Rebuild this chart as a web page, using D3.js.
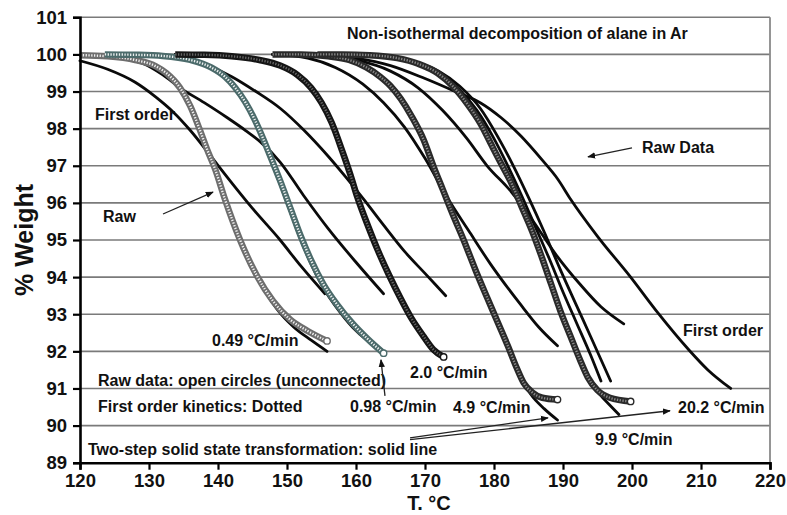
<!DOCTYPE html>
<html>
<head>
<meta charset="utf-8">
<script src="https://cdn.jsdelivr.net/npm/d3@7"></script>
<style>
  body { margin: 0; background: #fff; }
  svg { display: block; font-family: "Liberation Sans", Arial, Helvetica, sans-serif; font-weight: bold; }
</style>
</head>
<body>
<svg id="chart" width="787" height="515"></svg>
<script>
// Axis ticks
const xTicks = [120, 130, 140, 150, 160, 170, 180, 190, 200, 210, 220];
const yTicks = [89, 90, 91, 92, 93, 94, 95, 96, 97, 98, 99, 100, 101];

// Heating rates (°C/min)
const rates = ["0.49", "0.98", "2.0", "4.9", "9.9", "20.2"];

// Raw TGA data: [T °C, % weight]
const raw049 = [[120,99.98],[124,99.95],[128,99.85],[131,99.68],[132.5,99.5],[134.5,99.1],[136,98.6],[137.3,98.0],[138.4,97.45],[139.6,96.9],[141,96.1],[143.2,95.0],[145.6,94.05],[148,93.35],[150.5,92.85],[153,92.55],[155.8,92.28]];
const raw098 = [[123.6,100.0],[128,99.99],[132,99.96],[136,99.85],[139,99.65],[141,99.4],[142.5,99.1],[144,98.7],[145.3,98.25],[146.5,97.75],[147.7,97.2],[149,96.6],[150.5,95.85],[152,95.1],[153.5,94.45],[155.3,93.8],[157.3,93.25],[159.5,92.75],[161.6,92.35],[164,91.95]];
const raw20 = [[133.8,100.0],[138,99.99],[142,99.95],[146,99.85],[149,99.7],[151.5,99.45],[153.5,99.1],[155,98.7],[156.5,98.15],[158,97.4],[159.2,96.75],[160.2,96.15],[161.8,95.35],[163.1,94.75],[164.8,94.05],[166.4,93.45],[168,92.9],[169.8,92.4],[171.2,92.05],[172.7,91.85]];
const raw49 = [[147.9,100.0],[152,100.0],[156,99.95],[159,99.85],[161.5,99.65],[163.5,99.4],[165,99.15],[166.5,98.8],[168,98.35],[169.8,97.7],[171.3,96.95],[172.6,96.35],[174,95.7],[175.6,95.0],[177.3,94.2],[179,93.45],[180.5,92.8],[182,92.15],[183.3,91.55],[184.3,91.15],[185.5,90.9],[187,90.75],[189.2,90.7]];
const raw99 = [[154.4,100.0],[158,100.0],[162,99.98],[166,99.9],[169,99.75],[171.8,99.5],[174,99.15],[176.2,98.65],[178,98.15],[179.8,97.5],[181.2,97.0],[182.6,96.5],[184,95.9],[185.5,95.25],[187,94.5],[188.3,93.8],[189.6,93.1],[191.1,92.4],[192.4,91.8],[193.6,91.3],[195,90.95],[196.8,90.75],[199.8,90.65]];

// Two-step solid state transformation model
const twoStep049 = [[120,99.98],[124,99.95],[128,99.85],[131,99.66],[133,99.4],[134.5,99.05],[136,98.55],[137.3,97.95],[138.5,97.35],[139.8,96.75],[141.3,95.95],[143.5,94.9],[146,93.9],[148.5,93.15],[151,92.65],[153.5,92.3],[155.8,92.0]];
const twoStep098 = [[123.6,100.0],[128,99.99],[132,99.96],[136,99.85],[139,99.64],[141,99.38],[142.5,99.05],[144,98.65],[145.3,98.2],[146.5,97.7],[147.7,97.12],[149,96.5],[150.5,95.75],[152,95.0],[153.5,94.35],[155.3,93.7],[157.3,93.15],[159.5,92.65],[161.6,92.3],[163.7,92.05]];
const twoStep20 = [[133.8,100.0],[138,99.99],[142,99.95],[146,99.85],[149,99.7],[151.5,99.45],[153.5,99.1],[155,98.7],[156.5,98.15],[158,97.4],[159.2,96.75],[160.2,96.15],[161.8,95.35],[163.1,94.75],[164.8,94.05],[166.4,93.45],[168,92.9],[169.8,92.35],[171.2,92.0],[172.7,91.8]];
const twoStep49 = [[147.9,100.0],[152,100.0],[156,99.95],[159,99.85],[161.5,99.65],[163.5,99.4],[165,99.15],[166.5,98.8],[168,98.35],[169.8,97.7],[171.3,96.95],[172.6,96.35],[174,95.7],[175.6,95.0],[177.3,94.2],[179,93.45],[180.5,92.8],[182,92.15],[183.5,91.45],[185.3,90.85],[187.3,90.45],[189.2,90.15]];
const twoStep99 = [[154.4,100.0],[158,100.0],[162,99.98],[166,99.9],[169,99.75],[171.8,99.5],[174,99.15],[176.2,98.65],[178,98.15],[179.8,97.5],[181.2,97.0],[182.6,96.5],[184,95.9],[185.5,95.25],[187,94.5],[188.3,93.8],[189.6,93.1],[191.1,92.4],[192.4,91.8],[193.6,91.3],[195.3,90.85],[196.8,90.55],[198.1,90.3]];
const twoStep202a = [[154.4,100],[162,99.97],[168,99.8],[172,99.5],[175,99.05],[177.5,98.5],[179.8,97.8],[182,97.0],[184,96.2],[186,95.35],[188,94.5],[190,93.6],[192,92.75],[194,91.9],[195.5,91.2]];
const twoStep202b = [[154.4,100],[162,99.97],[168,99.82],[172,99.55],[175,99.15],[178,98.55],[180.5,97.8],[182.8,97.0],[185,96.15],[187.2,95.25],[189.5,94.25],[191.8,93.3],[194,92.4],[196.9,91.2]];

// First order kinetics model
const firstOrder049 = [[120,99.83],[124,99.6],[128,99.25],[131,98.85],[133.5,98.45],[136,97.95],[139,97.25],[141.3,96.7],[145,95.85],[149,95.0],[152,94.3],[155.5,93.55]];
const firstOrder098 = [[123.6,100.0],[126,99.9],[129.2,99.75],[132,99.45],[134.5,99.1],[138,98.7],[141.3,98.3],[144,97.95],[146.1,97.65],[149,97.1],[152.4,96.2],[156,95.3],[160,94.4],[164,93.55]];
const firstOrder20 = [[133.8,100],[138,99.75],[142,99.4],[145.5,99.0],[149,98.55],[152.5,97.95],[156,97.25],[158.5,96.7],[161.1,96.1],[164,95.4],[167,94.7],[170,94.1],[173,93.5]];
const firstOrder49 = [[147.9,100],[153,99.9],[157,99.65],[161,99.2],[164,98.7],[167,98.05],[170,97.2],[173.2,96.15],[176.5,95.2],[179.5,94.35],[183.9,93.25],[186.5,92.65],[189.2,92.15]];
const firstOrder99 = [[154.4,100],[160,99.85],[165,99.55],[169,99.1],[172.5,98.5],[176,97.75],[179,97.0],[182.5,96.3],[185.7,95.5],[189,94.6],[192.5,93.8],[195.5,93.2],[198.8,92.74]];
const firstOrder202 = [[155,100],[160,99.9],[165,99.7],[170,99.35],[175,98.95],[178,98.7],[181,98.3],[183.9,97.8],[187,97.15],[189.2,96.65],[191.1,96.1],[195,95.1],[199.8,94.0],[203.7,93.05],[208.1,92.07],[211,91.5],[214.3,91.0]];

const rawSets = [raw049, raw098, raw20, raw49, raw99];
const twoStepSets = [twoStep049, twoStep098, twoStep20, twoStep49, twoStep99, twoStep202a, twoStep202b];
const firstOrderSets = [firstOrder049, firstOrder098, firstOrder20, firstOrder49, firstOrder99, firstOrder202];

// Ring colours of the raw-data chains
const rawColors = ["#6e6e6e", "#4c6b6b", "#151515", "#2a2a2a", "#2a2a2a"];
const ringHoleOpacity = [0.9, 0.9, 0.35, 0.45, 0.45];

const svg = d3.select("#chart");
const x = d3.scaleLinear().domain([120, 220]).range([80, 770]);
const y = d3.scaleLinear().domain([89, 101]).range([462.7, 17.3]);

// Horizontal gridlines and right frame
svg.append("g").selectAll("line").data(yTicks).join("line")
  .attr("x1", x(120)).attr("x2", x(220))
  .attr("y1", d => y(d)).attr("y2", d => y(d))
  .attr("stroke", "#7a7a7a").attr("stroke-width", 1.6);
svg.append("line")
  .attr("x1", x(220)).attr("x2", x(220)).attr("y1", y(101)).attr("y2", y(89))
  .attr("stroke", "#8a8a8a").attr("stroke-width", 1.8);

const line = d3.line().x(d => x(d[0])).y(d => y(d[1])).curve(d3.curveMonotoneX);
const plot = svg.append("g");

// First order curves
plot.selectAll(".fo").data(firstOrderSets).join("path")
  .attr("class", "fo").attr("d", line)
  .attr("fill", "none").attr("stroke", "#0a0a0a").attr("stroke-width", 2.8)
  .attr("stroke-linecap", "round");

// Two-step curves
plot.selectAll(".ts").data(twoStepSets).join("path")
  .attr("class", "ts").attr("d", line)
  .attr("fill", "none").attr("stroke", "#0a0a0a").attr("stroke-width", 2.8)
  .attr("stroke-linecap", "round");

// Raw data as chains of open circles
rawSets.forEach((pts, i) => {
  plot.append("path").attr("d", line(pts))
    .attr("fill", "none").attr("stroke", rawColors[i]).attr("stroke-width", 6.5);
  plot.append("path").attr("d", line(pts))
    .attr("fill", "none").attr("stroke", "#fff").attr("stroke-width", 2.4)
    .attr("stroke-dasharray", "1.3 1.5").attr("opacity", ringHoleOpacity[i]);
  const last = pts[pts.length - 1];
  plot.append("circle").attr("cx", x(last[0])).attr("cy", y(last[1])).attr("r", 3.2)
    .attr("fill", "#fff").attr("stroke", rawColors[i]).attr("stroke-width", 1.4);
});

// Axes
const axL = svg.append("g").attr("transform", `translate(${x(120)},0)`)
  .call(d3.axisLeft(y).tickValues(yTicks).tickFormat(d3.format("d")).tickSize(7).tickPadding(6));
const axB = svg.append("g").attr("transform", `translate(0,${y(89)})`)
  .call(d3.axisBottom(x).tickValues(xTicks).tickFormat(d3.format("d")).tickSize(7).tickPadding(4));
[axL, axB].forEach(a => {
  a.select(".domain").attr("stroke", "#000").attr("stroke-width", 2.6);
  a.selectAll(".tick line").attr("stroke", "#000").attr("stroke-width", 2.2);
  a.selectAll(".tick text").attr("fill", "#111").attr("font-size", 18.5)
    .attr("font-family", '"Liberation Sans", Arial, sans-serif').attr("font-weight", "bold");
});

// Axis titles
svg.append("text").attr("x", 429).attr("y", 510)
  .attr("text-anchor", "middle").attr("font-size", 20).attr("fill", "#111").text("T. °C");
svg.append("text").attr("transform", `translate(33,240) rotate(-90)`)
  .attr("text-anchor", "middle").attr("font-size", 25).attr("fill", "#111").text("% Weight");

// Annotations: [text, T, weight]
const labels = [
  ["Non-isothermal decomposition of alane in Ar", 158.7, 100.42],
  ["First order", 122.17, 98.23],
  ["Raw", 123.33, 95.49],
  ["Raw Data", 201.45, 97.34],
  ["First order", 207.39, 92.41],
  ["0.49 °C/min", 139.13, 92.15],
  ["0.98 °C/min", 159.13, 90.37],
  ["2.0 °C/min", 167.83, 91.28],
  ["4.9 °C/min", 174.06, 90.34],
  ["9.9 °C/min", 194.64, 89.48],
  ["20.2 °C/min", 206.67, 90.34],
  ["Raw data: open circles (unconnected)", 122.61, 91.06],
  ["First order kinetics: Dotted", 122.61, 90.37],
  ["Two-step solid state transformation: solid line", 121.16, 89.21]
];
svg.append("g").selectAll("text").data(labels).join("text")
  .attr("x", d => x(d[1])).attr("y", d => y(d[2]))
  .attr("font-size", 16).attr("fill", "#111").text(d => d[0]);

// Arrows: [T1, w1, T2, w2]
const arrows = [
  [132.03, 95.70, 139.28, 96.29],
  [200.0, 97.48, 193.62, 97.24],
  [164.2, 90.80, 163.62, 91.77],
  [167.83, 89.67, 187.83, 90.21],
  [167.83, 89.62, 205.51, 90.40]
];
svg.append("defs").append("marker").attr("id", "head")
  .attr("viewBox", "0 0 10 10").attr("refX", 9).attr("refY", 5)
  .attr("markerWidth", 8).attr("markerHeight", 8).attr("orient", "auto")
  .attr("markerUnits", "userSpaceOnUse")
  .append("path").attr("d", "M0,1 L10,5 L0,9 Z").attr("fill", "#111");
svg.append("g").selectAll("line").data(arrows).join("line")
  .attr("x1", d => x(d[0])).attr("y1", d => y(d[1]))
  .attr("x2", d => x(d[2])).attr("y2", d => y(d[3]))
  .attr("stroke", "#222").attr("stroke-width", 1.3)
  .attr("marker-end", "url(#head)");
</script>
</body>
</html>
